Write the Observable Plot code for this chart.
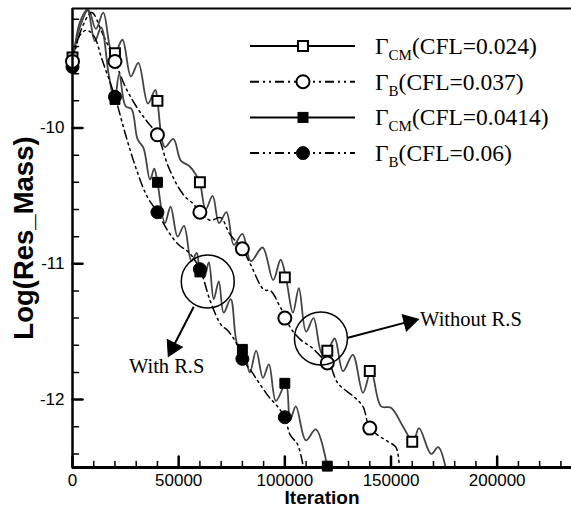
<!DOCTYPE html>
<html><head><meta charset="utf-8">
<script src="https://cdn.jsdelivr.net/npm/d3@7"></script>
<script src="https://cdn.jsdelivr.net/npm/@observablehq/plot@0.6"></script>
<style>
body{margin:0;background:#fff;}
#wrap{position:relative;width:571px;height:513px;}
#legend{position:absolute;left:0;top:0;pointer-events:none;}
</style></head><body>
<div id="wrap"><div id="chart"></div></div>
<script>
// ---------- data ----------
const xDomain = [0, 235000];
const yDomain = [-12.5, -9.12];
const xMajorTicks = [0, 50000, 100000, 150000, 200000];
const xMinorTicks = [10000, 20000, 30000, 40000, 60000, 70000, 80000, 90000, 110000, 120000, 130000, 140000, 160000, 170000, 180000, 190000, 210000, 220000, 230000];
const yMajorTicks = [-12, -11, -10];
const yMinorTicks = [-12.4, -12.2, -11.8, -11.6, -11.4, -11.2, -10.8, -10.6, -10.4, -10.2, -9.8, -9.6, -9.4, -9.2];

// Gamma_CM (CFL=0.024) solid line
const iterCM024 = [0, 3000, 7500, 11000, 14500, 18000, 20000, 23500, 27500, 31000, 35500, 39000, 40000, 43500, 47500, 51000, 55000, 58000, 60000, 62700, 66000, 69000, 72500, 76000, 80000, 84000, 89500, 94500, 98000, 100500, 103800, 106600, 110000, 113500, 117500, 120800, 123500, 127400, 132000, 136800, 140600, 145300, 150000, 155700, 160400, 163200, 168900, 172200, 176000];
const resCM024 = [-9.50, -9.28, -9.13, -9.27, -9.15, -9.42, -9.45, -9.35, -9.62, -9.52, -9.82, -9.72, -9.80, -10.14, -10.08, -10.24, -10.28, -10.34, -10.40, -10.60, -10.50, -10.70, -10.62, -10.86, -10.78, -10.98, -10.88, -11.12, -10.97, -11.10, -11.36, -11.18, -11.50, -11.40, -11.66, -11.62, -11.55, -11.79, -11.67, -11.95, -11.79, -12.05, -12.06, -12.20, -12.31, -12.21, -12.40, -12.35, -12.52];

// Gamma_B (CFL=0.037) dash-dot-dot line
const iterB037 = [0, 4000, 9000, 14000, 20000, 25000, 30000, 35000, 40000, 45000, 50000, 53300, 57000, 60000, 65000, 69800, 74000, 80000, 84000, 90100, 93400, 97200, 100500, 103000, 107500, 113000, 118000, 120800, 125000, 132600, 136800, 140100, 148600, 152300, 154000];
const resB037 = [-9.51, -9.28, -9.15, -9.30, -9.51, -9.70, -9.84, -9.95, -10.05, -10.28, -10.44, -10.51, -10.56, -10.62, -10.68, -10.66, -10.78, -10.89, -11.01, -11.19, -11.20, -11.30, -11.40, -11.48, -11.56, -11.62, -11.70, -11.73, -11.88, -11.98, -12.05, -12.21, -12.31, -12.35, -12.52];

// Gamma_CM (CFL=0.0414) solid line
const iterCM0414 = [0, 3500, 7000, 10500, 13500, 17000, 19800, 22000, 25000, 27800, 30600, 33500, 36500, 38500, 40000, 43500, 46200, 49500, 52500, 56000, 58500, 60000, 62000, 64200, 66500, 68900, 71200, 74500, 77800, 80600, 83500, 86500, 89700, 92500, 95800, 100500, 102500, 105200, 109900, 114600, 120300];
const resCM0414 = [-9.55, -9.22, -9.13, -9.36, -9.26, -9.60, -9.80, -9.60, -9.84, -9.86, -10.08, -10.15, -10.38, -10.30, -10.40, -10.70, -10.58, -10.80, -10.72, -10.98, -10.92, -11.06, -11.10, -10.99, -11.26, -11.13, -11.36, -11.26, -11.60, -11.63, -11.80, -11.64, -11.84, -11.74, -12.01, -11.88, -12.15, -12.05, -12.30, -12.22, -12.52];

// Gamma_B (CFL=0.06) dash-dot-dot line
const iterB06 = [0, 3000, 6500, 10000, 14000, 20000, 25000, 30000, 35000, 40000, 45000, 50000, 55000, 60000, 65000, 70000, 73000, 77000, 80000, 84600, 88000, 92500, 96500, 100000, 102500, 106000, 109000];
const resB06 = [-9.55, -9.33, -9.28, -9.32, -9.50, -9.77, -10.05, -10.30, -10.50, -10.62, -10.76, -10.86, -10.92, -11.04, -11.28, -11.45, -11.49, -11.58, -11.70, -11.80, -11.88, -11.98, -12.05, -12.13, -12.26, -12.33, -12.52];

// symbols
const symIterCM024 = [0, 20000, 40000, 60000, 100000, 120000, 140000, 160000];
const symResCM024 = [-9.48, -9.45, -9.80, -10.40, -11.10, -11.64, -11.79, -12.31];
const symIterB037 = [0, 20000, 40000, 60000, 80000, 100000, 120000, 140000];
const symResB037 = [-9.51, -9.51, -10.05, -10.62, -10.89, -11.40, -11.73, -12.21];
const symIterCM0414 = [0, 20000, 40000, 60000, 80000, 100000, 120000];
const symResCM0414 = [-9.53, -9.79, -10.40, -11.06, -11.63, -11.88, -12.49];
const symIterB06 = [0, 20000, 40000, 60000, 80000, 100000];
const symResB06 = [-9.55, -9.77, -10.62, -11.04, -11.70, -12.13];

// annotations
const annCircleIter = [63700, 117000];
const annCircleRes = [-11.13, -11.55];
const annArrowIter1 = [57100, 129700];
const annArrowRes1 = [-11.316, -11.544];
const annArrowIter2 = [47170, 158500];
const annArrowRes2 = [-11.618, -11.426];
const annHeadAngle = [206.6, 75.6];
const annLabels = ["With R.S", "Without R.S"];
const annLabelIter = [44340, 163700];
const annLabelRes = [-11.757, -11.41];

const legendSub = ["CM", "B", "CM", "B"];
const legendRest = ["(CFL=0.024)", "(CFL=0.037)", "(CFL=0.0414)", "(CFL=0.06)"];

// ---------- build ----------
const pts = (xs, ys) => xs.map((x, i) => ({x, y: ys[i]}));
const DASH = "9,4,2,4,2,4";
const tickShape = {draw(ctx, l) { ctx.moveTo(0, 0); ctx.lineTo(0, -l); }};
const fmt = d => String(d);

const lineCM024 = pts(iterCM024, resCM024);
const lineB037 = pts(iterB037, resB037);
const lineCM0414 = pts(iterCM0414, resCM0414);
const lineB06 = pts(iterB06, resB06);

const circles = pts(annCircleIter, annCircleRes);
const arrows = annArrowIter1.map((x, i) => ({x1: x, y1: annArrowRes1[i], x2: annArrowIter2[i], y2: annArrowRes2[i], a: annHeadAngle[i]}));
const labels = annLabels.map((t, i) => ({t, x: annLabelIter[i], y: annLabelRes[i]}));

const chart = Plot.plot({
  width: 571, height: 513,
  marginLeft: 72, marginRight: 0, marginTop: 8, marginBottom: 46,
  style: {fontFamily: "'Liberation Sans', Arial, sans-serif", background: "white", color: "black"},
  x: {domain: xDomain},
  y: {domain: yDomain},
  marks: [
    Plot.line(lineCM024, {x: "x", y: "y", curve: "catmull-rom", stroke: "#444", strokeWidth: 1.8, clip: true}),
    Plot.line(lineB037, {x: "x", y: "y", curve: "catmull-rom", stroke: "#000", strokeWidth: 1.5, strokeDasharray: DASH, clip: true}),
    Plot.line(lineCM0414, {x: "x", y: "y", curve: "catmull-rom", stroke: "#444", strokeWidth: 1.8, clip: true}),
    Plot.line(lineB06, {x: "x", y: "y", curve: "catmull-rom", stroke: "#000", strokeWidth: 1.5, strokeDasharray: DASH, clip: true}),
    Plot.dot(pts(symIterCM024, symResCM024), {x: "x", y: "y", symbol: "square", r: 5.6, fill: "white", stroke: "black", strokeWidth: 2}),
    Plot.dot(pts(symIterCM0414, symResCM0414), {x: "x", y: "y", symbol: "square", r: 5.6, fill: "black", stroke: "black", strokeWidth: 1}),
    Plot.dot(pts(symIterB06, symResB06), {x: "x", y: "y", symbol: "circle", r: 6.5, fill: "black", stroke: "black", strokeWidth: 1}),
    Plot.dot(pts(symIterB037, symResB037), {x: "x", y: "y", symbol: "circle", r: 6.5, fill: "white", stroke: "black", strokeWidth: 2}),
    // annotations
    Plot.dot(circles, {x: "x", y: "y", r: 26.5, stroke: "black", strokeWidth: 1.5, fill: "none"}),
    Plot.link(arrows, {x1: "x1", y1: "y1", x2: "x2", y2: "y2", stroke: "black", strokeWidth: 2}),
    Plot.dot(arrows, {x: "x2", y: "y2", symbol: "triangle", r: 6.3, rotate: "a", fill: "black", stroke: "black", strokeWidth: 1}),
    Plot.text(labels.slice(0, 1), {x: "x", y: "y", text: "t", fontFamily: "'Liberation Serif', 'Times New Roman', serif", fontSize: 20.5, textAnchor: "middle", fill: "black"}),
    Plot.text(labels.slice(1), {x: "x", y: "y", text: "t", fontFamily: "'Liberation Serif', 'Times New Roman', serif", fontSize: 20.5, textAnchor: "start", fill: "black"}),
    // frame lines
    Plot.ruleX([xDomain[0]], {stroke: "black", strokeWidth: 2.5}),
    Plot.ruleY([yDomain[0]], {stroke: "black", strokeWidth: 3}),
    Plot.ruleY([yDomain[1]], {stroke: "black", strokeWidth: 2}),
    // ticks (inward)
    Plot.vector(xMajorTicks, {x: d => d, frameAnchor: "bottom", length: 11, anchor: "start", shape: tickShape, stroke: "black", strokeWidth: 2.5}),
    Plot.vector(xMinorTicks, {x: d => d, frameAnchor: "bottom", length: 6, anchor: "start", shape: tickShape, stroke: "black", strokeWidth: 1.5}),
    Plot.vector(yMajorTicks, {y: d => d, frameAnchor: "left", length: 10, rotate: 90, anchor: "start", shape: tickShape, stroke: "black", strokeWidth: 2.5}),
    Plot.vector(yMinorTicks, {y: d => d, frameAnchor: "left", length: 6, rotate: 90, anchor: "start", shape: tickShape, stroke: "black", strokeWidth: 1.5}),
    Plot.axisX(xMajorTicks, {tickSize: 0, tickPadding: 6, tickFormat: fmt, fontSize: 17, label: null}),
    Plot.axisY(yMajorTicks, {tickSize: 0, tickPadding: 8, tickFormat: fmt, fontSize: 17, label: null}),
    Plot.text(["Log(Res_Mass)"], {frameAnchor: "left", textAnchor: "middle", dx: -48, rotate: -90, fontSize: 27.5, fontWeight: "bold", fill: "black"}),
    Plot.text(["Iteration"], {frameAnchor: "bottom", textAnchor: "middle", dy: 36, fontSize: 19, fontWeight: "bold", fill: "black"})
  ]
});
document.getElementById("chart").appendChild(chart);

// legend overlay (inside plot area, upper right)
const lg = d3.select("#wrap").append("svg").attr("id", "legend").attr("width", 571).attr("height", 513);
const rows = [
  {dash: null, sym: "square", fill: "white"},
  {dash: DASH, sym: "circle", fill: "white"},
  {dash: null, sym: "square", fill: "black"},
  {dash: DASH, sym: "circle", fill: "black"}
];
rows.forEach((r, i) => {
  const cy = 46 + i * 35.7;
  lg.append("line").attr("x1", 250).attr("x2", 355).attr("y1", cy).attr("y2", cy)
    .attr("stroke", "black").attr("stroke-width", 2).attr("stroke-dasharray", r.dash);
  if (r.sym === "square") {
    lg.append("rect").attr("x", 303 - 5).attr("y", cy - 5).attr("width", 10).attr("height", 10)
      .attr("fill", r.fill).attr("stroke", "black").attr("stroke-width", r.fill === "white" ? 2 : 1);
  } else {
    lg.append("circle").attr("cx", 303).attr("cy", cy).attr("r", 6.5)
      .attr("fill", r.fill).attr("stroke", "black").attr("stroke-width", r.fill === "white" ? 2 : 1);
  }
  const t = lg.append("text").attr("x", 375).attr("y", cy + 8)
    .attr("font-family", "'Liberation Serif', 'Times New Roman', serif").attr("font-size", 23.5).attr("fill", "black");
  t.append("tspan").text("Γ");
  t.append("tspan").attr("font-size", 15).attr("dy", 6).text(legendSub[i]);
  t.append("tspan").attr("dy", -6).text(legendRest[i]);
});
</script></body></html>
